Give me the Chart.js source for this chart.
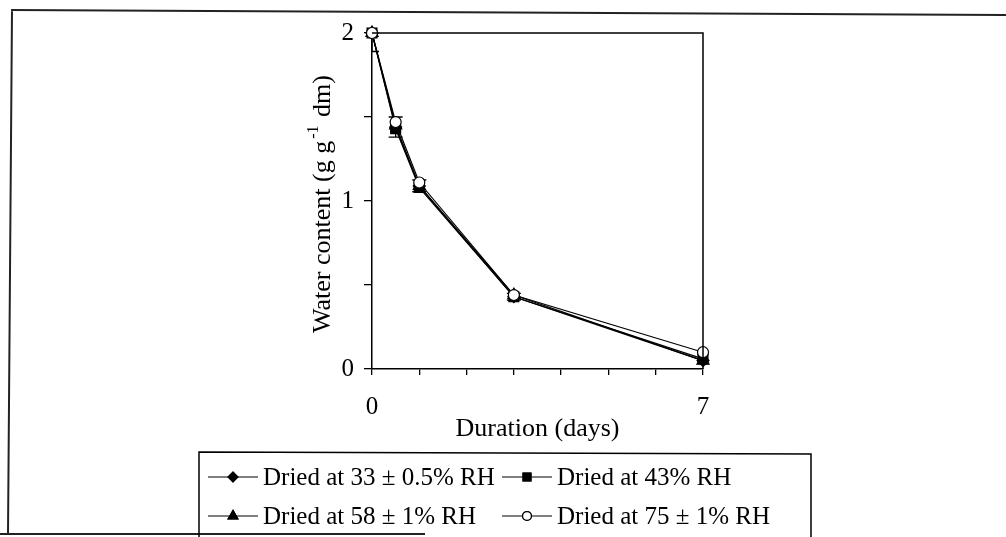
<!DOCTYPE html>
<html><head><meta charset="utf-8">
<script src="https://cdn.jsdelivr.net/npm/chart.js@4.4.1/dist/chart.umd.min.js"></script>
<style>html,body{margin:0;padding:0;background:#fff;overflow:hidden}</style>
</head><body>
<canvas id="c" width="1006" height="537" style="display:block;width:1006px;height:537px"></canvas>
<script>
// ---- data ----
const days = [0, 0.5, 1, 3, 7];
const rh33 = [2.00, 1.44, 1.09, 0.43, 0.05];
const rh43 = [2.00, 1.43, 1.08, 0.43, 0.06];
const rh58 = [2.00, 1.45, 1.09, 0.44, 0.05];
const rh75 = [2.00, 1.47, 1.11, 0.44, 0.10];
const errBars = [0.11, 0.06, 0.035, 0.02, 0.0];
const seriesLabels = ['Dried at 33 \u00b1 0.5% RH', 'Dried at 43% RH', 'Dried at 58 \u00b1 1% RH', 'Dried at 75 \u00b1 1% RH'];
const xTickLabels = ['0', '7'];
const xTickValues = [0, 7];
const yTickLabels = ['0', '1', '2'];
const yTickValues = [0, 1, 2];
const xTitle = 'Duration (days)';
const yTitleMain = 'Water content (g g';
const yTitleSup = '-1';
const yTitleEnd = ' dm)';

const FONT = '"Liberation Serif", "Times New Roman", serif';
const seriesValues = [rh33, rh43, rh58, rh75];
const styles = [
  {pointStyle: 'rectRot', radius: 6, fill: '#000'},
  {pointStyle: 'rect', radius: 7, fill: '#000'},
  {pointStyle: 'triangle', radius: 7, fill: '#000'},
  {pointStyle: 'circle', radius: 5.5, fill: '#fff'}
];

const datasets = seriesValues.map((vals, k) => ({
  label: seriesLabels[k],
  data: days.map((d, i) => ({x: d, y: vals[i]})),
  borderColor: '#000',
  borderWidth: 1.2,
  pointStyle: styles[k].pointStyle,
  pointRadius: styles[k].radius,
  pointBackgroundColor: styles[k].fill,
  pointBorderColor: '#000',
  pointBorderWidth: 1.2,
  tension: 0,
  clip: false,
  order: 3 - k
}));

const errorBarPlugin = {
  id: 'errorBars',
  beforeDatasetsDraw(chart) {
    const {ctx, chartArea: a, scales: {x, y}} = chart;
    ctx.save();
    ctx.beginPath();
    ctx.rect(a.left, a.top, a.right - a.left, a.bottom - a.top);
    ctx.clip();
    ctx.strokeStyle = '#000';
    ctx.lineWidth = 1.3;
    days.forEach((d, i) => {
      const e = errBars[i];
      if (!e) return;
      const px = x.getPixelForValue(d);
      const yHi = y.getPixelForValue(rh33[i] + e);
      const yLo = y.getPixelForValue(rh33[i] - e);
      ctx.beginPath();
      ctx.moveTo(px, yHi); ctx.lineTo(px, yLo);
      ctx.moveTo(px - 7, yHi); ctx.lineTo(px + 7, yHi);
      ctx.moveTo(px - 7, yLo); ctx.lineTo(px + 7, yLo);
      ctx.stroke();
    });
    ctx.restore();
  }
};

function drawMarker(ctx, k, cx, cy) {
  const st = styles[k];
  ctx.save();
  ctx.fillStyle = st.fill;
  ctx.strokeStyle = '#000';
  ctx.lineWidth = 1.2;
  Chart.helpers.drawPoint(ctx, {pointStyle: st.pointStyle, radius: st.radius * 0.8, borderWidth: 1.2}, cx, cy);
  ctx.fill();
  ctx.stroke();
  ctx.restore();
}

const decorPlugin = {
  id: 'decor',
  afterDraw(chart) {
    const {ctx, chartArea: a} = chart;
    ctx.save();
    // plot frame top/right
    ctx.strokeStyle = '#000';
    ctx.lineWidth = 1.5;
    ctx.beginPath();
    ctx.moveTo(a.left, a.top); ctx.lineTo(a.right, a.top); ctx.lineTo(a.right, a.bottom);
    ctx.stroke();
    // outer frame pieces
    ctx.strokeStyle = '#222';
    ctx.lineWidth = 2;
    ctx.beginPath();
    ctx.moveTo(11, 10); ctx.lineTo(1006, 15);
    ctx.moveTo(12, 10); ctx.lineTo(8, 534);
    ctx.moveTo(0, 534); ctx.lineTo(425, 534);
    ctx.stroke();
    // axis titles
    ctx.fillStyle = '#000';
    ctx.font = '26px ' + FONT;
    ctx.textAlign = 'center';
    ctx.textBaseline = 'middle';
    ctx.fillText(xTitle, (a.left + a.right) / 2, 429);
    // y title rotated
    ctx.save();
    const supFont = '16px ' + FONT;
    const mainFont = '26px ' + FONT;
    ctx.font = mainFont;
    const w1 = ctx.measureText(yTitleMain).width;
    const w3 = ctx.measureText(yTitleEnd).width;
    ctx.font = supFont;
    const w2 = ctx.measureText(yTitleSup).width + 4;
    const total = w1 + w2 + w3;
    ctx.translate(322, (a.top + a.bottom) / 2 + 3);
    ctx.rotate(-Math.PI / 2);
    ctx.textAlign = 'left';
    ctx.textBaseline = 'alphabetic';
    let sx = -total / 2;
    ctx.font = mainFont; ctx.fillText(yTitleMain, sx, 8); sx += w1;
    ctx.font = supFont; ctx.fillText(yTitleSup, sx + 2, -4); sx += w2;
    ctx.font = mainFont; ctx.fillText(yTitleEnd, sx, 8);
    ctx.restore();
    // legend box
    ctx.strokeStyle = '#000';
    ctx.lineWidth = 1.5;
    ctx.beginPath();
    ctx.moveTo(199, 537); ctx.lineTo(199, 452); ctx.lineTo(811, 454); ctx.lineTo(811, 537);
    ctx.stroke();
    const cols = [208, 502];
    const rows = [477, 516];
    ctx.font = '25px ' + FONT;
    ctx.textAlign = 'left';
    ctx.textBaseline = 'middle';
    ctx.lineWidth = 1.2;
    for (let k = 0; k < 4; k++) {
      const cx = cols[k % 2], cy = rows[Math.floor(k / 2)];
      ctx.beginPath();
      ctx.moveTo(cx, cy); ctx.lineTo(cx + 50, cy);
      ctx.strokeStyle = '#000';
      ctx.stroke();
      drawMarker(ctx, k, cx + 25, cy);
      ctx.fillStyle = '#000';
      ctx.fillText(chart.data.datasets[k].label, cx + 55, cy + 1);
    }
    ctx.restore();
  }
};

new Chart(document.getElementById('c'), {
  type: 'line',
  data: {datasets},
  options: {
    responsive: false,
    animation: false,
    devicePixelRatio: 1,
    layout: {autoPadding: false, padding: {left: 0, right: 303, top: 33, bottom: 0}},
    plugins: {legend: {display: false}, tooltip: {enabled: false}},
    scales: {
      x: {
        type: 'linear', min: 0, max: 7,
        afterBuildTicks: s => { s.ticks = [0,1,2,3,4,5,6,7].map(v => ({value: v})); },
        ticks: {
          autoSkip: false, maxRotation: 0, color: '#000', padding: 17,
          font: {family: FONT, size: 25},
          callback: v => { const i = xTickValues.indexOf(v); return i >= 0 ? xTickLabels[i] : ''; }
        },
        grid: {drawOnChartArea: false, tickLength: 6, color: '#000', lineWidth: 1.3},
        border: {color: '#000', width: 1.5},
        afterFit: s => { s.height = 537 - 369; s.paddingLeft = 0; s.paddingRight = 0; }
      },
      y: {
        type: 'linear', min: 0, max: 2,
        afterBuildTicks: s => { s.ticks = [0, 0.5, 1, 1.5, 2].map(v => ({value: v})); },
        ticks: {
          autoSkip: false, color: '#000', padding: 10,
          font: {family: FONT, size: 25},
          callback: v => { const i = yTickValues.indexOf(v); return i >= 0 ? yTickLabels[i] : ''; }
        },
        grid: {drawOnChartArea: false, tickLength: 8, color: '#000', lineWidth: 1.3},
        border: {color: '#000', width: 1.5},
        afterFit: s => { s.width = 372; s.paddingTop = 0; s.paddingBottom = 0; }
      }
    }
  },
  plugins: [errorBarPlugin, decorPlugin]
});
</script>
</body></html>
